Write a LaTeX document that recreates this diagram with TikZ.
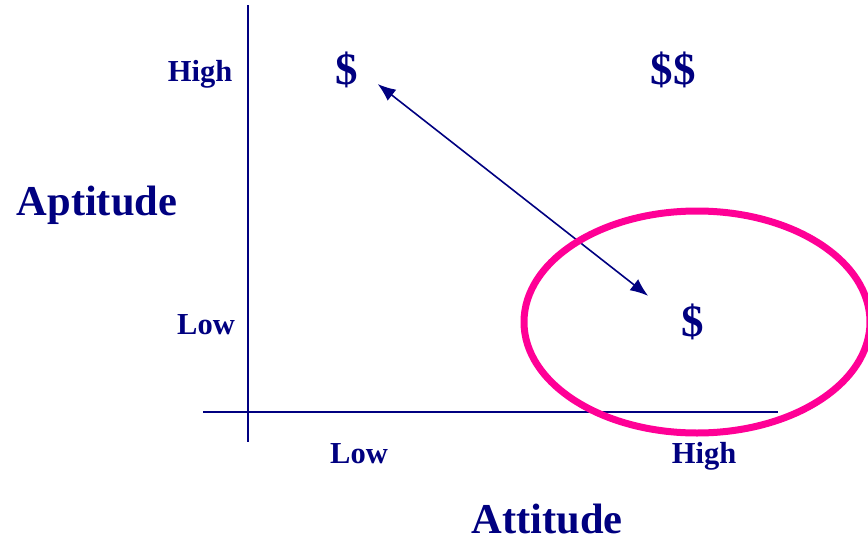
\documentclass[tikz,border=0pt]{standalone}
\usepackage{fontspec}
\setmainfont{Liberation Serif}
\usetikzlibrary{arrows.meta}
\definecolor{navy}{RGB}{0,0,128}
\definecolor{hotpink}{RGB}{255,0,150}
\tikzset{
  lbl/.style={text=navy,font=\fontsize{30.5}{36}\selectfont\bfseries},
  big/.style={text=navy,font=\fontsize{42.5}{50}\selectfont\bfseries},
  cash/.style={text=navy,font=\fontsize{45}{52}\selectfont\bfseries}
}

\begin{document}
\begin{tikzpicture}[x=1pt,y=-1pt]
\useasboundingbox (0,0) rectangle (868,541);
\clip (0,0) rectangle (868,541);
% axes
\draw[navy,line width=2pt] (248,5)--(248,442);
\draw[navy,line width=2pt] (203,412)--(778,412);
% labels
\node[lbl] (yhigh) at (200,74) {High};
\node[lbl] (ylow) at (206,325) {Low};
\node[lbl] (xlow) at (359,454) {Low};
\node[lbl] (xhigh) at (704,456) {High};
\node[big] (apt) at (97,205) {Aptitude};
\node[big] (att) at (547,519) {Attitude};
% payoffs
\node[cash] (hl) at (347,70) {\$};
\node[cash] (hh) at (673,70) {\$\$};
\node[cash] (lh) at (693,322) {\$};
\draw[navy,line width=1.6pt,{Latex[length=18pt,width=14pt]}-{Latex[length=18pt,width=14pt]},
  shorten <=39pt,shorten >=57pt] ([yshift=10pt]hl.center)--([yshift=-9pt]lh.center);
\draw[hotpink,line width=7pt] (697,322) ellipse[x radius=173,y radius=111];
\end{tikzpicture}
\end{document}
